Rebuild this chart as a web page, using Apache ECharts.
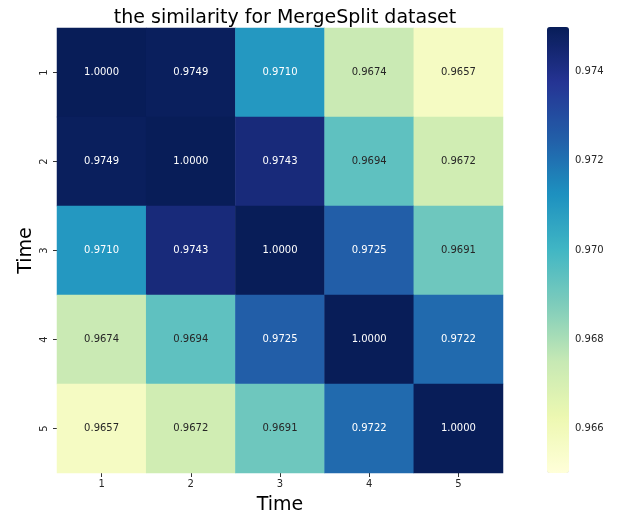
<!DOCTYPE html>
<html>
<head>
<meta charset="utf-8">
<script src="https://cdn.jsdelivr.net/npm/echarts@6/dist/echarts.min.js"></script>
<style>html,body{margin:0;padding:0;background:#fff}#c{width:619px;height:514px}</style>
</head>
<body>
<div id="c"></div>
<script>
var categories = ['1', '2', '3', '4', '5'];
var row1 = [1.0000, 0.9749, 0.9710, 0.9674, 0.9657];
var row2 = [0.9749, 1.0000, 0.9743, 0.9694, 0.9672];
var row3 = [0.9710, 0.9743, 1.0000, 0.9725, 0.9691];
var row4 = [0.9674, 0.9694, 0.9725, 1.0000, 0.9722];
var row5 = [0.9657, 0.9672, 0.9691, 0.9722, 1.0000];
var colorbarTicks = [0.966, 0.968, 0.970, 0.972, 0.974];
var vmin = 0.965, vmax = 0.975;

var rows = [row1, row2, row3, row4, row5];
var data = [];
rows.forEach(function (r, yi) {
  r.forEach(function (v, xi) {
    var c = Math.max(vmin, Math.min(vmax, v));
    data.push({
      value: [xi, yi, v, c],
      label: { color: v >= 0.9700 ? '#ffffff' : '#262626' }
    });
  });
});

var font = 'DejaVu Sans';
var chart = echarts.init(document.getElementById('c'));
chart.setOption({
  animation: false,
  backgroundColor: '#ffffff',
  title: {
    text: 'the similarity for MergeSplit dataset',
    left: 280, top: 4, textAlign: 'center',
    textStyle: { fontFamily: font, fontSize: 19, fontWeight: 'normal', color: '#000' }
  },
  grid: [
    { left: 57, top: 28, width: 446, height: 445, outerBoundsMode: 'none', containLabel: false },
    { left: 547, top: 27, width: 22, height: 446, outerBoundsMode: 'none', containLabel: false }
  ],
  xAxis: [{
    type: 'category', data: categories, gridIndex: 0,
    name: 'Time', nameLocation: 'middle', nameGap: 23,
    nameTextStyle: { fontFamily: font, fontSize: 19, color: '#000' },
    axisLine: { show: false },
    axisTick: { show: true, alignWithLabel: true, length: 4, lineStyle: { color: '#333' } },
    axisLabel: { fontFamily: font, fontSize: 10, color: '#262626', margin: 6 },
    splitLine: { show: false }
  }, {
    type: 'value', gridIndex: 1, show: false, min: 0, max: 1
  }],
  yAxis: [{
    type: 'category', data: categories, gridIndex: 0, inverse: true,
    name: 'Time', nameLocation: 'middle', nameGap: 21, nameRotate: 90,
    nameMoveOverlap: false,
    nameTextStyle: { fontFamily: font, fontSize: 19, color: '#000' },
    axisLine: { show: false },
    axisTick: { show: true, alignWithLabel: true, length: 4, lineStyle: { color: '#333' } },
    axisLabel: { fontFamily: font, fontSize: 10, color: '#262626', rotate: 90, margin: 8 },
    splitLine: { show: false }
  }, {
    type: 'value', gridIndex: 1, position: 'right', min: vmin, max: vmax,
    axisLine: { show: false },
    axisTick: { show: true, length: 4, customValues: colorbarTicks, lineStyle: { color: '#333' } },
    axisLabel: {
      fontFamily: font, fontSize: 10, color: '#262626', margin: 6,
      customValues: colorbarTicks,
      formatter: function (v) { return v.toFixed(3); }
    },
    splitLine: { show: false }
  }],
  visualMap: {
    type: 'continuous', seriesIndex: 0, dimension: 3,
    min: vmin, max: vmax, calculable: false, realtime: false,
    orient: 'vertical', left: 547, top: 27, padding: 0,
    itemWidth: 22, itemHeight: 446, text: null, showLabel: false,
    inRange: { color: ['#ffffd9', '#edf8b1', '#c7e9b4', '#7fcdbb', '#41b6c4', '#1d91c0', '#225ea8', '#253494', '#081d58'] }
  },
  series: [{
    type: 'heatmap', xAxisIndex: 0, yAxisIndex: 0,
    data: data,
    label: {
      show: true, fontFamily: font, fontSize: 10,
      formatter: function (p) { return p.value[2].toFixed(4); }
    },
    itemStyle: { borderWidth: 0 },
    emphasis: { disabled: true }
  }]
});
</script>
</body>
</html>
